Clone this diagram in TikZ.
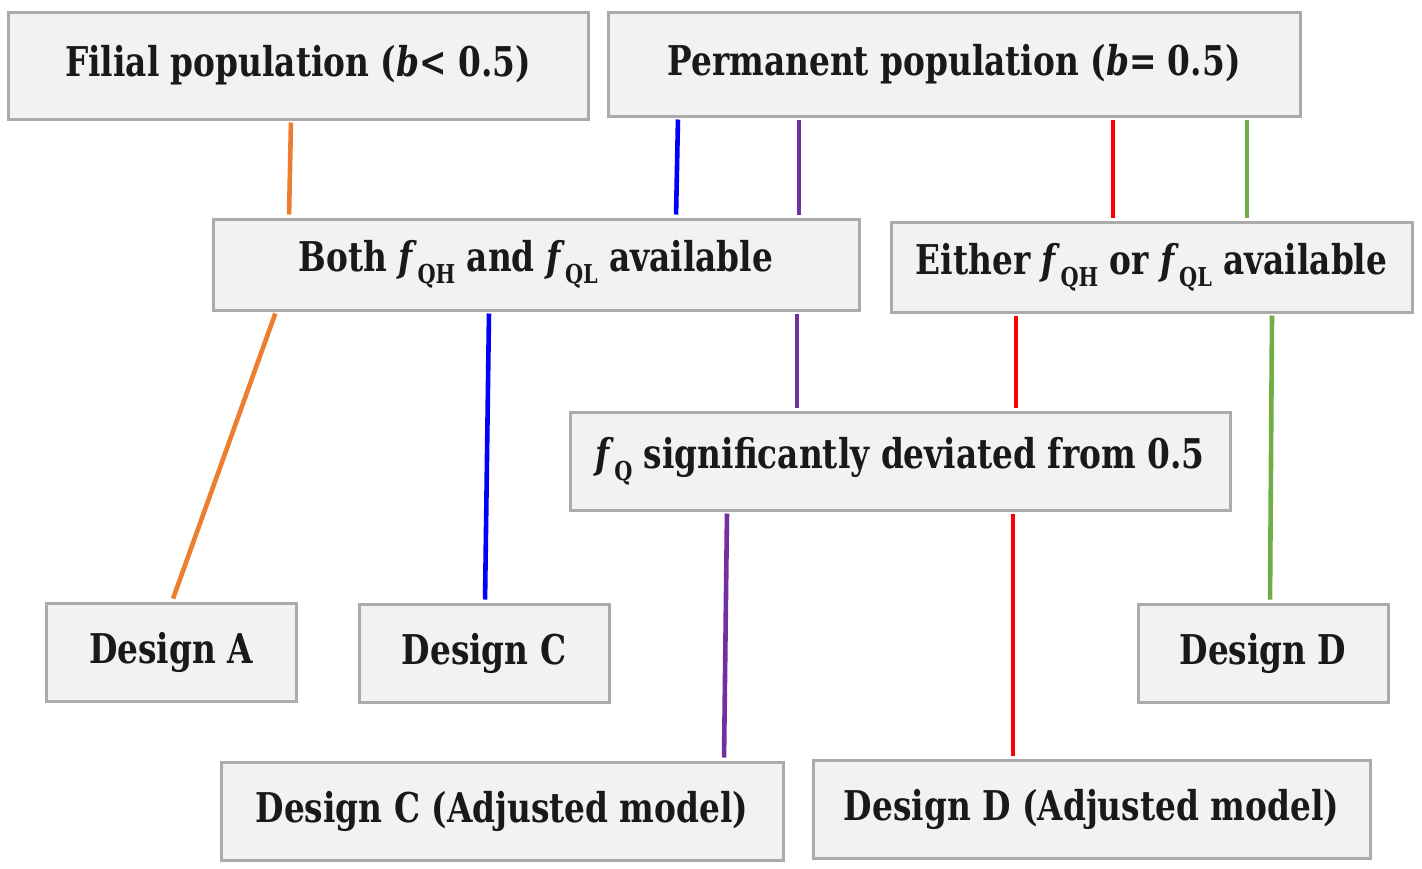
\documentclass[tikz,border=0pt]{standalone}
\usepackage{fontspec}
\setmainfont{DejaVu Serif}[FakeStretch=0.8]
\usepackage{tikz}
\usetikzlibrary{calc}
\definecolor{boxline}{HTML}{ABABAB}
\definecolor{boxfill}{HTML}{F2F2F2}
\definecolor{lnorange}{HTML}{ED7D31}
\definecolor{lnblue}{HTML}{0000FF}
\definecolor{lnpurple}{HTML}{7030A0}
\definecolor{lnred}{HTML}{FF0000}
\definecolor{lngreen}{HTML}{70AD47}
\newcommand{\fsub}[1]{\raisebox{-0.55ex}{\fontsize{13}{13}\selectfont #1}}

\begin{document}
\begin{tikzpicture}[
  x=0.5pt, y=-0.5pt,
  box/.style={rectangle, draw=boxline, line width=1.5pt, fill=boxfill,
              inner sep=0pt, align=center, text=black!90,
              font=\fontsize{20.5}{22}\selectfont\bfseries},
  lnk/.style={line width=2.3pt, shorten <=1pt, shorten >=1.5pt}
]
  \useasboundingbox (0,0) rectangle (1422,868);
  % top row
  \node[box, minimum width=290pt, minimum height=53.5pt] (fil) at (298,65.5)
    {Filial population (\textit{b}< 0.5)};
  \node[box, minimum width=346pt, minimum height=52pt] (perm) at (954,64)
    {Permanent population (\textit{b}= 0.5)};
  % conditions
  \node[box, minimum width=323pt, minimum height=45.5pt] (both) at (536,264.5)
    {Both \textit{f}\fsub{QH} and \textit{f}\fsub{QL} available};
  \node[box, minimum width=260.5pt, minimum height=45pt] (either) at (1151.5,267)
    {Either \textit{f}\fsub{QH} or \textit{f}\fsub{QL} available};
  \node[box, minimum width=330pt, minimum height=49pt] (dev) at (900,461)
    {\textit{f}\fsub{Q} significantly deviated from 0.5};
  % designs
  \node[box, minimum width=125pt, minimum height=49pt] (desA) at (171,652) {Design A};
  \node[box, minimum width=125pt, minimum height=49pt] (desC) at (484,653) {Design C};
  \node[box, minimum width=125pt, minimum height=49pt] (desD) at (1263,653) {Design D};
  \node[box, minimum width=281pt, minimum height=49pt] (desCadj) at (502,811)
    {Design C (Adjusted model)};
  \node[box, minimum width=278.5pt, minimum height=49pt] (desDadj) at (1091.5,809)
    {Design D (Adjusted model)};
  % connectors
  \draw[lnk, lnorange] ($(fil.south)+(-7,0)$) -- ($(both.north)+(-247,0)$);
  \draw[lnk, lnorange] ($(both.south)+(-260,0)$) -- ($(desA.north)+(1,0)$);
  \draw[lnk, lnblue] ($(perm.south)+(-276,0)$) -- ($(both.north)+(140,0)$);
  \draw[lnk, lnblue] ($(both.south)+(-47,0)$) -- ($(desC.north)+(1,0)$);
  \draw[lnk, lnpurple] ($(perm.south)+(-155,0)$) -- ($(both.north)+(263,0)$);
  \draw[lnk, lnpurple] ($(both.south)+(261,0)$) -- ($(dev.north)+(-103,0)$);
  \draw[lnk, lnpurple] ($(dev.south)+(-173,0)$) -- ($(desCadj.north)+(222,0)$);
  \draw[lnk, lnred] ($(perm.south)+(159,0)$) -- ($(either.north)+(-38.5,0)$);
  \draw[lnk, lnred] ($(either.south)+(-135.5,0)$) -- ($(dev.north)+(116,0)$);
  \draw[lnk, lnred] ($(dev.south)+(113,0)$) -- ($(desDadj.north)+(-78.5,0)$);
  \draw[lnk, lngreen] ($(perm.south)+(293,0)$) -- ($(either.north)+(95.5,0)$);
  \draw[lnk, lngreen] ($(either.south)+(120.5,0)$) -- ($(desD.north)+(7,0)$);
\end{tikzpicture}
\end{document}
